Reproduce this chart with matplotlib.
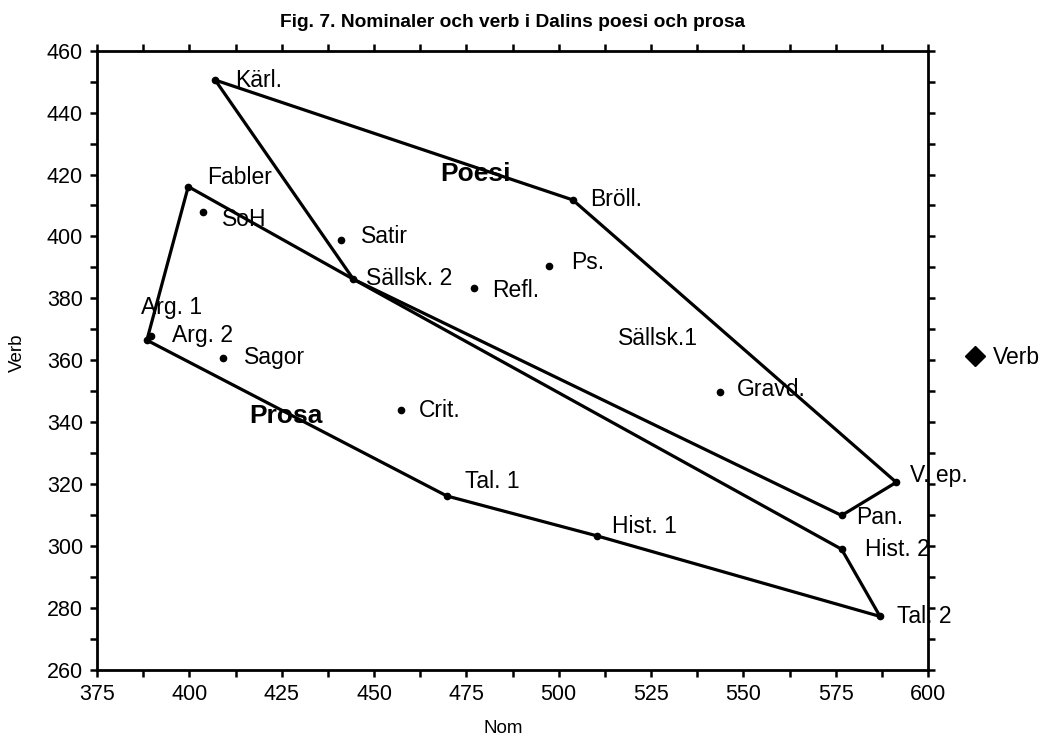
import matplotlib
matplotlib.use("Agg")
import matplotlib.pyplot as plt
from matplotlib.lines import Line2D

plt.rcParams["font.family"] = ["Liberation Sans", "DejaVu Sans"]

# texts, Nom / Verb values
names = ["Kärl.", "Bröll.", "Fabler", "SoH", "Satir", "Sällsk. 2", "Refl.", "Ps.",
         "Arg. 1", "Arg. 2", "Sagor", "Crit.", "Tal. 1", "Hist. 1", "Gravd.",
         "V. ep.", "Pan.", "Hist. 2", "Tal. 2"]
nom = [407.0, 503.8, 399.7, 403.8, 441.0, 444.4, 477.1, 497.5,
       388.5, 389.5, 409.2, 457.3, 469.7, 510.4, 543.7,
       591.4, 576.6, 576.6, 587.0]
verb = [450.5, 411.8, 416.1, 408.0, 398.9, 386.2, 383.3, 390.6,
        366.5, 368.0, 360.9, 343.8, 316.2, 303.3, 349.7,
        320.6, 309.9, 299.0, 277.3]

poesi = ["Kärl.", "Bröll.", "V. ep.", "Pan.", "Sällsk. 2", "Kärl."]
prosa = ["Fabler", "Arg. 1", "Tal. 1", "Hist. 1", "Tal. 2", "Hist. 2", "Sällsk. 2", "Fabler"]

# label offsets in pixels (dx, dy)
offsets = {"Kärl.": (20, 0), "Bröll.": (17, 0), "Fabler": (19, 9), "SoH": (19, -8),
           "Satir": (20, 3), "Sällsk. 2": (13, 1), "Refl.": (18, -2), "Ps.": (22, 3),
           "Arg. 1": (-6, 33), "Arg. 2": (21, 0), "Sagor": (21, 0), "Crit.": (18, 0),
           "Tal. 1": (18, 14), "Hist. 1": (15, 9), "Gravd.": (17, 3), "V. ep.": (14, 7),
           "Pan.": (15, -2), "Hist. 2": (23, 0), "Tal. 2": (17, 0)}

pos = dict(zip(names, zip(nom, verb)))

fig = plt.figure(figsize=(10.51, 7.47), dpi=100)
ax = fig.add_axes([0.0923, 0.1031, 0.7907, 0.8291])

for poly in (poesi, prosa):
    ax.plot([pos[n][0] for n in poly], [pos[n][1] for n in poly], c="black", lw=2.3,
            solid_joinstyle="miter", zorder=2)

ax.plot(nom, verb, "o", c="black", ms=4.5, zorder=3)

for n in names:
    ax.annotate(n, pos[n], xytext=offsets[n], textcoords="offset pixels",
                ha="left", va="center", fontsize=16.5, zorder=4)

ax.text(516.0, 367.2, "Sällsk.1", ha="left", va="center", fontsize=16.5)
ax.text(477.6, 420.2, "Poesi", ha="center", va="center", fontsize=19, fontweight="bold")
ax.text(426.2, 342.0, "Prosa", ha="center", va="center", fontsize=19, fontweight="bold")

ax.set_xlim(375, 600)
ax.set_ylim(260, 460)
ax.set_xticks(range(375, 601, 25))
ax.set_xticks([375 + 12.5 * i for i in range(19)], minor=True)
ax.set_yticks(range(260, 461, 20))
ax.set_yticks(range(260, 461, 10), minor=True)
for s in ax.spines.values():
    s.set_linewidth(2.0)
ax.tick_params(which="both", direction="out", length=5, width=1.8,
               top=True, right=True, labelsize=15.5, pad=5)

ax.set_xlabel("Nom", fontsize=13.5, va="center")
ax.xaxis.set_label_coords(0.489, -0.094)
ax.set_ylabel("Verb", fontsize=13.5, va="center")
ax.yaxis.set_label_coords(-0.0957, 0.512)
fig.text(0.4876, 0.9705, "Fig. 7. Nominaler och verb i Dalins poesi och prosa",
         ha="center", va="center", fontsize=13.8, fontweight="bold")

handle = Line2D([], [], marker="D", ls="none", c="black", ms=10)
ax.legend([handle], ["Verb"], loc="center left", bbox_to_anchor=(1.015, 0.505),
          frameon=False, fontsize=16.5, handletextpad=0.2, handlelength=1.2)

fig.savefig("out.png", dpi=100)
